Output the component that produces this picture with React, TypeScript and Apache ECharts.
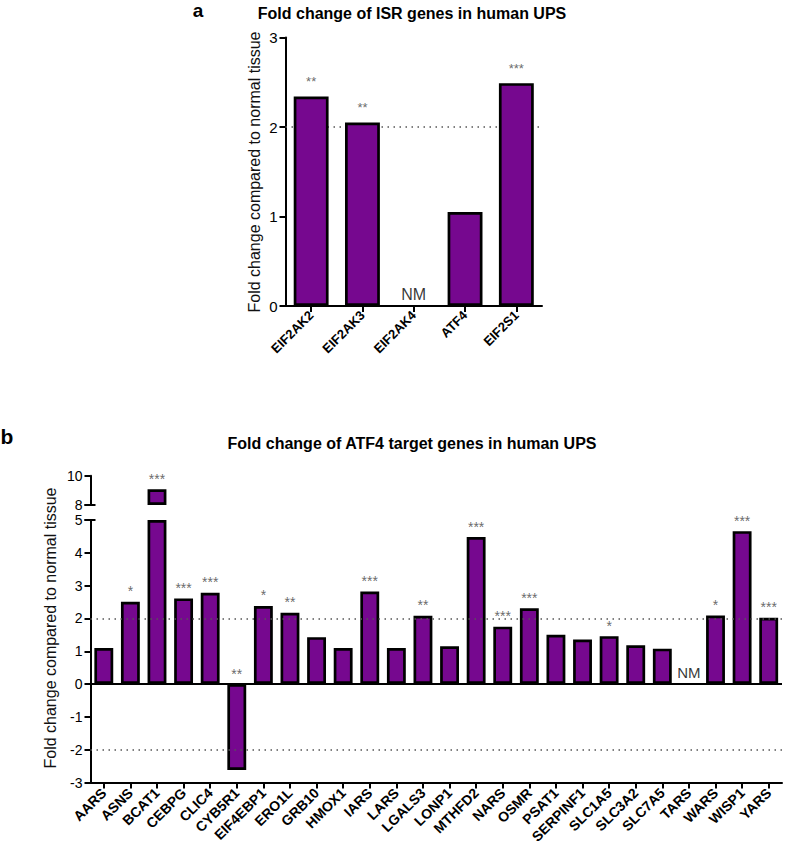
import React, { useEffect, useRef } from "react";
import * as echarts from "echarts";

const FONT = '"Liberation Sans", Arial, Helvetica, sans-serif';
const PURPLE = "#76088F";

// Panel a
const catsA = ["EIF2AK2", "EIF2AK3", "EIF2AK4", "ATF4", "EIF2S1"];
const valsA: (number | null)[] = [2.34, 2.05, null, 1.05, 2.49];
const sigA = ["**", "**", "NM", "", "***"];
const refLinesA = [2];

// Panel b
const catsB = [
  "AARS", "ASNS", "BCAT1", "CEBPG", "CLIC4", "CYB5R1", "EIF4EBP1", "ERO1L", "GRB10",
  "HMOX1", "IARS", "LARS", "LGALS3", "LONP1", "MTHFD2", "NARS", "OSMR", "PSAT1",
  "SERPINF1", "SLC1A5", "SLC3A2", "SLC7A5", "TARS", "WARS", "WISP1", "YARS",
];
const valsB: (number | null)[] = [
  1.1, 2.51, 9.07, 2.61, 2.78, -2.62, 2.38, 2.17, 1.43,
  1.1, 2.82, 1.1, 2.08, 1.15, 4.48, 1.75, 2.31, 1.5,
  1.36, 1.46, 1.18, 1.08, null, 2.09, 4.66, 2.02,
];
const sigB = [
  "", "*", "***", "***", "***", "**", "*", "**", "",
  "", "***", "", "**", "", "***", "***", "***", "",
  "", "*", "", "", "NM", "*", "***", "***",
];
const refLinesB = [2, -2];

// axis ranges
const yA = { min: 0, max: 3, interval: 1 };
const yBUpper = { min: 8, max: 10, interval: 2 };
const yBLower = { min: -3, max: 5, interval: 1 };

// layout
const GA = { left: 285.5, top: 37.5, width: 256.5, height: 268.5 };
const GBU = { left: 90.5, top: 475.7, width: 691.5, height: 29.3 };
const GBL = { left: 90.5, top: 520, width: 691.5, height: 262.5 };

export default function App() {
  const ref = useRef<HTMLDivElement>(null);

  useEffect(() => {
    if (!ref.current) return;
    const chart = echarts.init(ref.current, null, { renderer: "svg" });

    const axisLine = { show: true, lineStyle: { color: "#000", width: 2 } };
    const yTick = { show: true, inside: false, length: 6, lineStyle: { color: "#000", width: 2 } };
    const dotted = { color: "#555", width: 1.5, type: [1.5, 4.5] as any };

    const barStyle = { color: PURPLE, borderColor: "#000", borderWidth: 2.7 };

    const sigPointsA = sigA
      .map((s, i) => (s && s !== "NM" ? { value: [i, valsA[i] as number], s } : null))
      .filter(Boolean);
    const nmA = sigA.map((s, i) => (s === "NM" ? { value: [i, 0], s } : null)).filter(Boolean);

    const sigPointsBLower = sigB
      .map((s, i) => {
        const v = valsB[i];
        if (!s || s === "NM" || v == null || v > yBLower.max) return null;
        return { value: [i, Math.max(v, 0)], s };
      })
      .filter(Boolean);
    const sigPointsBUpper = sigB
      .map((s, i) => {
        const v = valsB[i];
        if (!s || v == null || v <= yBLower.max) return null;
        return { value: [i, v], s };
      })
      .filter(Boolean);
    const nmB = sigB.map((s, i) => (s === "NM" ? { value: [i, 0], s } : null)).filter(Boolean);

    const upperBase = valsB.map((v) => (v != null && v > yBLower.max ? yBUpper.min : null));
    const upperTop = valsB.map((v) => (v != null && v > yBLower.max ? v - yBUpper.min : null));
    const lowerVals = valsB.map((v) => (v == null ? null : Math.min(v, yBLower.max)));

    const labelScatter = (
      xi: number,
      yi: number,
      data: any[],
      size: number,
      dist: number,
      color: string,
      weight: string
    ) => ({
      type: "scatter",
      xAxisIndex: xi,
      yAxisIndex: yi,
      data,
      symbolSize: 1,
      itemStyle: { color: "rgba(0,0,0,0)" },
      silent: true,
      z: 5,
      label: {
        show: true,
        position: "top",
        distance: dist,
        formatter: (p: any) => p.data.s,
        fontFamily: FONT,
        fontSize: size,
        fontWeight: weight,
        color,
      },
    });

    const yLabelB = { fontFamily: FONT, fontSize: 14, lineHeight: 13, color: "#000", margin: 8 };

    const option: any = {
      animation: false,
      backgroundColor: "#fff",
      grid: [
        { ...GA, containLabel: false },
        { ...GBU, containLabel: false },
        { ...GBL, containLabel: false },
      ],
      xAxis: [
        {
          type: "category",
          gridIndex: 0,
          data: catsA,
          axisLine,
          axisTick: { show: true, alignWithLabel: true, length: 6, lineStyle: { color: "#000", width: 2 } },
          axisLabel: {
            rotate: 45,
            margin: 7,
            fontFamily: FONT,
            fontSize: 13,
            fontWeight: "bold",
            color: "#000",
            interval: 0,
          },
          splitLine: { show: false },
        },
        {
          type: "category",
          gridIndex: 1,
          data: catsB,
          show: false,
        },
        {
          type: "category",
          gridIndex: 2,
          data: catsB,
          axisLine: { ...axisLine, onZero: false },
          axisTick: { show: true, alignWithLabel: true, length: 6, lineStyle: { color: "#000", width: 2 } },
          axisLabel: {
            rotate: 45,
            margin: 8,
            fontFamily: FONT,
            fontSize: 14,
            fontWeight: "bold",
            color: "#000",
            interval: 0,
          },
          splitLine: { show: false },
        },
      ],
      yAxis: [
        {
          type: "value",
          gridIndex: 0,
          ...yA,
          axisLine,
          axisTick: yTick,
          axisLabel: { fontFamily: FONT, fontSize: 15, color: "#000", margin: 8 },
          splitLine: { show: false },
        },
        {
          type: "value",
          gridIndex: 1,
          ...yBUpper,
          axisLine,
          axisTick: yTick,
          axisLabel: yLabelB,
          splitLine: { show: false },
        },
        {
          type: "value",
          gridIndex: 2,
          ...yBLower,
          axisLine,
          axisTick: yTick,
          axisLabel: yLabelB,
          splitLine: { show: false },
        },
      ],
      series: [
        {
          type: "bar",
          xAxisIndex: 0,
          yAxisIndex: 0,
          data: valsA,
          barWidth: "68%",
          itemStyle: barStyle,
          z: 3,
          markLine: {
            silent: true,
            symbol: "none",
            label: { show: false },
            lineStyle: dotted,
            data: refLinesA.map((v) => ({ yAxis: v })),
            z: 1,
          },
        },
        labelScatter(0, 0, sigPointsA as any[], 13, 8, "#444", "normal"),
        labelScatter(0, 0, nmA as any[], 16, 3, "#000", "normal"),
        {
          type: "bar",
          xAxisIndex: 1,
          yAxisIndex: 1,
          stack: "upper",
          data: upperBase,
          barWidth: "71%",
          itemStyle: { color: "rgba(0,0,0,0)", borderWidth: 0 },
          silent: true,
        },
        {
          type: "bar",
          xAxisIndex: 1,
          yAxisIndex: 1,
          stack: "upper",
          data: upperTop,
          barWidth: "71%",
          itemStyle: barStyle,
        },
        labelScatter(1, 1, sigPointsBUpper as any[], 14, 3, "#444", "normal"),
        {
          type: "bar",
          xAxisIndex: 2,
          yAxisIndex: 2,
          data: lowerVals,
          barWidth: "71%",
          itemStyle: barStyle,
          z: 3,
          markLine: {
            silent: true,
            symbol: "none",
            label: { show: false },
            data: [
              ...refLinesB.map((v) => ({ yAxis: v, lineStyle: dotted })),
              { yAxis: 0, lineStyle: { color: "#000", width: 2, type: "solid" } },
            ],
          },
        },
        labelScatter(2, 2, sigPointsBLower as any[], 14, 3, "#444", "normal"),
        labelScatter(2, 2, nmB as any[], 15, 4, "#000", "normal"),
      ],
      graphic: [
        {
          type: "text",
          x: 198,
          y: 10,
          style: {
            text: "a",
            font: `bold 19px ${FONT}`,
            fill: "#000",
            align: "center",
            verticalAlign: "middle",
          },
        },
        {
          type: "text",
          x: 412,
          y: 13,
          style: {
            text: "Fold change of ISR genes in human UPS",
            font: `bold 16px ${FONT}`,
            fill: "#000",
            align: "center",
            verticalAlign: "middle",
          },
        },
        {
          type: "text",
          x: 254,
          y: 172,
          rotation: Math.PI / 2,
          style: {
            text: "Fold change compared to normal tissue",
            font: `16px ${FONT}`,
            fill: "#111",
            align: "center",
            verticalAlign: "middle",
          },
        },
        {
          type: "text",
          x: 7,
          y: 436,
          style: { text: "b", font: `bold 21px ${FONT}`, fill: "#000", align: "center", verticalAlign: "middle" },
        },
        {
          type: "text",
          x: 412,
          y: 443,
          style: {
            text: "Fold change of ATF4 target genes in human UPS",
            font: `bold 16px ${FONT}`,
            fill: "#000",
            align: "center",
            verticalAlign: "middle",
          },
        },
        {
          type: "text",
          x: 50,
          y: 628,
          rotation: Math.PI / 2,
          style: {
            text: "Fold change compared to normal tissue",
            font: `16px ${FONT}`,
            fill: "#111",
            align: "center",
            verticalAlign: "middle",
          },
        },
        {
          type: "line",
          shape: { x1: GBU.left - 6, y1: GBU.top + GBU.height, x2: GBU.left + 5, y2: GBU.top + GBU.height },
          style: { stroke: "#000", lineWidth: 2 },
        },
        {
          type: "line",
          shape: { x1: GBL.left - 6, y1: GBL.top, x2: GBL.left + 5, y2: GBL.top },
          style: { stroke: "#000", lineWidth: 2 },
        },
      ],
    };

    chart.setOption(option);
    return () => chart.dispose();
  }, []);

  return (
    <div
      ref={ref}
      style={{ position: "fixed", left: 0, top: 0, width: 787, height: 849, background: "#fff" }}
    />
  );
}
